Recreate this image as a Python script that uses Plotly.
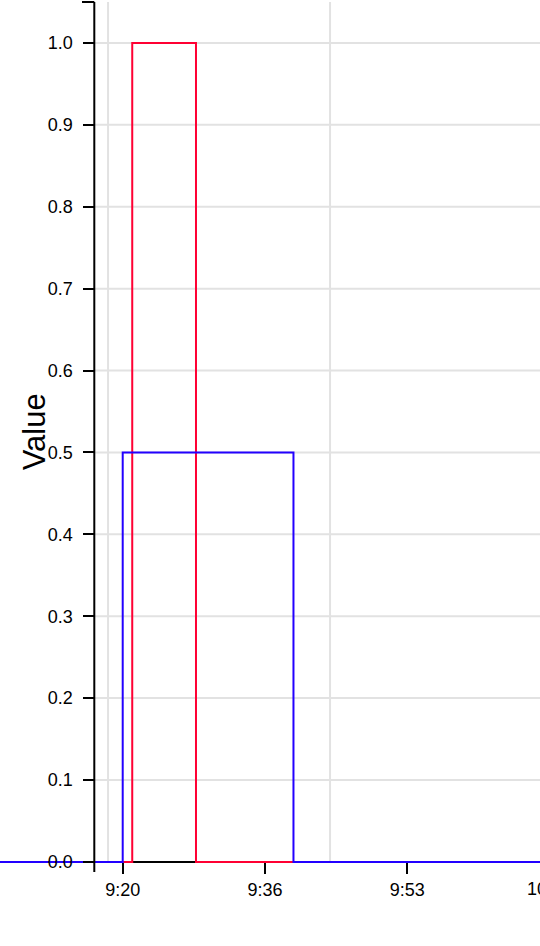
import plotly.graph_objects as go
import pandas as pd

# Daten
rot_zeit = ["2024-01-01 09:00:00", "2024-01-01 09:21:07", "2024-01-01 09:28:35", "2024-01-01 10:20:00"]
rot_wert = [0, 1.0, 0, 0]
blau_zeit = ["2024-01-01 09:00:00", "2024-01-01 09:20:00", "2024-01-01 09:40:00", "2024-01-01 10:20:00"]
blau_wert = [0, 0.5, 0, 0]
y_ticks = [0.0, 0.1, 0.2, 0.3, 0.4, 0.5, 0.6, 0.7, 0.8, 0.9, 1.0]
v_gitter = ["2024-01-01 09:18:17", "2024-01-01 09:44:17"]
x_bereich = ["2024-01-01 09:05:37.7", "2024-01-01 10:08:52.5"]
y_bereich = [-0.005, 1.05]

# Graphparameter
achse_x = 94.3 / 540
schrift = "Liberation Sans, Arial, Helvetica, sans-serif"

fig = go.Figure()
fig.add_trace(go.Scatter(x=pd.to_datetime(rot_zeit), y=rot_wert, mode="lines",
                         line=dict(color="#ff0033", width=2, shape="hv"), showlegend=False))
fig.add_trace(go.Scatter(x=pd.to_datetime(blau_zeit), y=blau_wert, mode="lines",
                         line=dict(color="#2200ff", width=2, shape="hv"), showlegend=False))

# Gitterlinien
for v in y_ticks:
    fig.add_shape(type="line", xref="paper", yref="y", x0=achse_x, x1=1, y0=v, y1=v,
                  line=dict(color="#e2e2e2", width=2), layer="below")
for t in v_gitter:
    fig.add_shape(type="line", xref="x", yref="y", x0=t, x1=t, y0=0, y1=1.05,
                  line=dict(color="#e2e2e2", width=2), layer="below")

# y-Achsenlinie mit Außenticks
fig.add_shape(type="line", xref="paper", yref="paper", x0=achse_x, x1=achse_x, y0=-6 / 864, y1=1,
              line=dict(color="black", width=2))
fig.add_shape(type="line", xref="paper", yref="paper", x0=82 / 540, x1=achse_x, y0=1, y1=1,
              line=dict(color="black", width=2))

fig.update_layout(
    width=540, height=946,
    margin=dict(l=0, r=0, t=2, b=80),
    plot_bgcolor="white", paper_bgcolor="white",
    font=dict(family=schrift, size=18, color="black"),
    xaxis=dict(type="date", range=x_bereich, tickformat="%-H:%M",
               tick0="2024-01-01 09:20:00", dtick=1000000,
               ticks="outside", ticklen=11, tickwidth=2, tickcolor="black",
               showline=True, linecolor="black", linewidth=2,
               showgrid=False, zeroline=False, layer="below traces",
               anchor="free", position=0.005 / 1.055,
               tickfont=dict(family=schrift, size=18)),
    yaxis=dict(range=y_bereich, tickvals=y_ticks, tickformat=".1f",
               anchor="free", position=achse_x,
               ticks="outside", ticklen=11, tickwidth=2, tickcolor="black",
               showline=False, showgrid=False, zeroline=False,
               ticklabelstandoff=7,
               tickfont=dict(family=schrift, size=18)),
)

# Achsentitel und abgeschnittenes Tick-Label am rechten Rand
fig.add_annotation(text="Value", xref="paper", yref="paper", x=34 / 540, y=0.502,
                   textangle=-90, showarrow=False, xanchor="center", yanchor="middle",
                   font=dict(family=schrift, size=31, color="black"))
fig.add_annotation(text="10:10", xref="paper", yref="paper", x=549.6 / 540, y=-23 / 864,
                   showarrow=False, xanchor="center", yanchor="middle",
                   font=dict(family=schrift, size=18, color="black"))

fig.write_html("out.html", config={"displayModeBar": False},
               post_script="document.body.style.margin='0';document.body.style.overflow='hidden';")
